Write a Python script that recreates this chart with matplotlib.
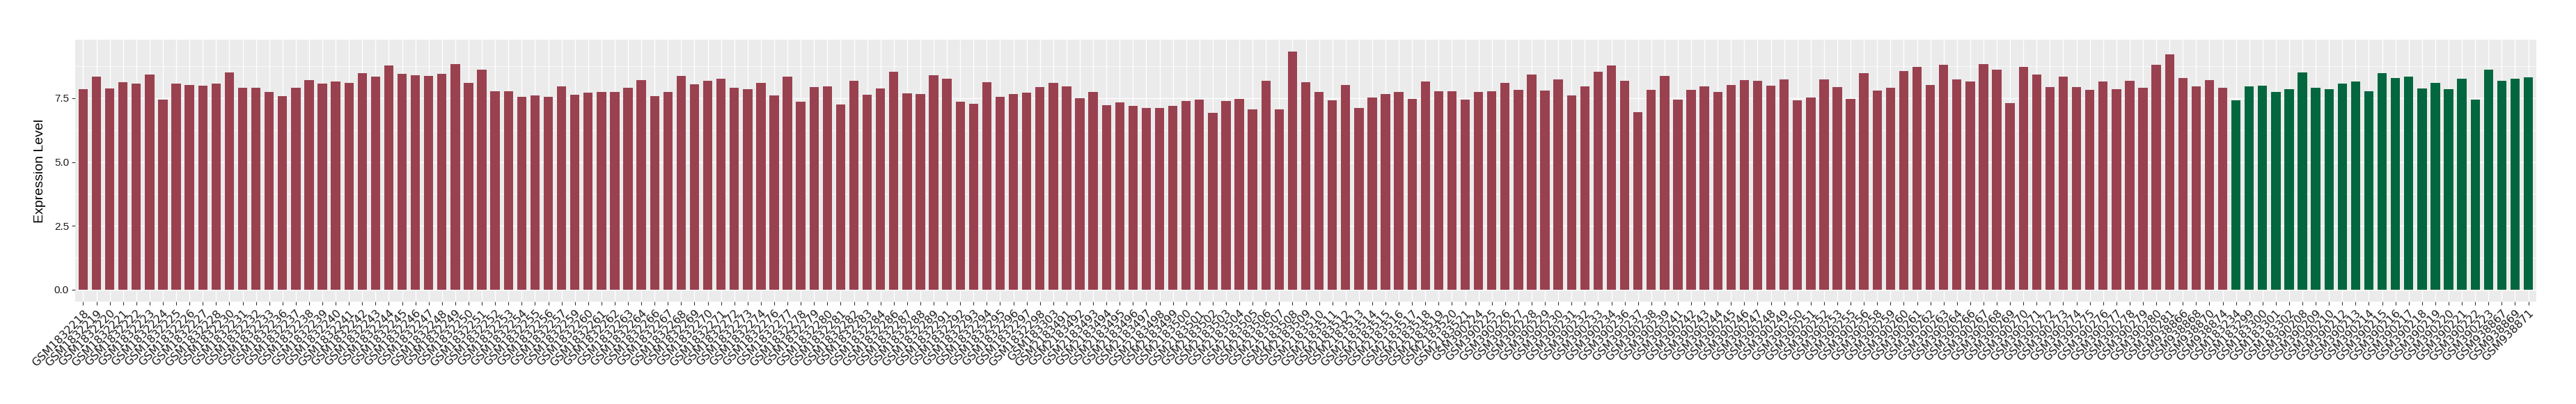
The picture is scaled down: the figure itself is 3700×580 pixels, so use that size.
import matplotlib
matplotlib.use("Agg")
import matplotlib.pyplot as plt
from matplotlib.ticker import MultipleLocator

# muestras del grupo 1 (rojo)
samples_a = (
    ["GSM1832%d" % n for n in [218, 219, 220, 221, 222, 223, 224, 225, 226, 227, 228,
                              230, 231, 232, 233, 236, 237, 238, 239, 240, 241, 242,
                              243, 244, 245, 246, 247, 248, 249, 250, 251, 252, 253,
                              254, 255, 256, 257, 259, 260, 261, 262, 263, 264, 266,
                              267, 268, 269, 270, 271, 272, 273, 274, 276, 277, 278,
                              279, 280, 281, 282, 283, 284, 286, 287, 288, 289, 291,
                              292, 293, 294, 295, 296, 297, 298]]
    + ["GSM183303"]
    + ["GSM2183%d" % n for n in range(491, 522)]
    + ["GSM390%d" % n for n in [224, 225, 226, 227, 228, 229, 230, 231, 232, 233, 234,
                               236, 237, 238, 239, 241, 242, 243, 244, 245, 246, 247,
                               248, 249, 250, 251, 252, 253, 255, 256, 258, 259, 260,
                               261, 262, 263, 264, 266, 267, 268, 269, 270, 271, 272,
                               273, 274, 275, 276, 277, 278, 279, 280, 281]]
    + ["GSM938866", "GSM938868", "GSM938870", "GSM938874"]
)

values_a = [
    7.85, 8.34, 7.87, 8.12, 8.07, 8.42, 7.44, 8.07, 8.01, 7.98,
    8.07, 8.50, 7.90, 7.90, 7.74, 7.57, 7.90, 8.20, 8.07, 8.15,
    8.09, 8.48, 8.34, 8.78, 8.45, 8.39, 8.37, 8.45, 8.83, 8.09,
    8.61, 7.76, 7.76, 7.55, 7.60, 7.55, 7.96, 7.63, 7.71, 7.74,
    7.74, 7.90, 8.20, 7.57, 7.74, 8.37, 8.04, 8.18, 8.26, 7.90,
    7.85, 8.09, 7.60, 8.34, 7.35, 7.93, 7.96, 7.24, 8.18, 7.63,
    7.87, 8.53, 7.68, 7.66, 8.39, 8.26, 7.35, 7.27, 8.12, 7.55,
    7.66, 7.71, 7.93, 8.09, 7.96, 7.49, 7.74, 7.22, 7.33, 7.19,
    7.11, 7.11, 7.19, 7.38, 7.44, 6.92, 7.38, 7.46, 7.05, 8.18,
    7.05, 9.32, 8.12, 7.74, 7.41, 8.01, 7.11, 7.52, 7.66, 7.74,
    7.46, 8.15, 7.76, 7.76, 7.44, 7.74, 7.76, 8.09, 7.82, 8.42,
    7.79, 8.23, 7.60, 7.96, 8.53, 8.78, 8.18, 6.94, 7.82, 8.37,
    7.44, 7.82, 7.96, 7.74, 8.01, 8.20, 8.18, 7.98, 8.23, 7.41,
    7.52, 8.23, 7.93, 7.46, 8.48, 7.79, 7.90, 8.56, 8.72, 8.01,
    8.80, 8.23, 8.15, 8.83, 8.61, 7.30, 8.72, 8.42, 7.93, 8.34,
    7.93, 7.82, 8.15, 7.85, 8.18, 7.90, 8.80, 9.22, 8.28, 7.96,
    8.20, 7.90,
]

# muestras del grupo 2 (verde)
samples_b = (
    ["GSM183234", "GSM183299", "GSM183300", "GSM183301", "GSM183302"]
    + ["GSM390%d" % n for n in [208, 209, 210, 212, 213, 214, 215, 216, 217, 218,
                               219, 220, 221, 222, 223]]
    + ["GSM938867", "GSM938869", "GSM938871"]
)

values_b = [
    7.41, 7.96, 7.98, 7.74, 7.85, 8.50, 7.90, 7.85, 8.07, 8.15,
    7.76, 8.48, 8.28, 8.34, 7.87, 8.09, 7.85, 8.26, 7.44, 8.61,
    8.18, 8.26, 8.31,
]

color_a = "#9A4150"
color_b = "#02673F"

labels = samples_a + samples_b
values = values_a + values_b
colors = [color_a] * len(values_a) + [color_b] * len(values_b)
x = list(range(len(labels)))

fig = plt.figure(figsize=(37, 5.8), dpi=100)
ax = fig.add_axes([108 / 3700, 1 - 433 / 580, (3643 - 108) / 3700, (433 - 57) / 580])

ax.set_facecolor("#EBEBEB")
ax.bar(x, values, width=0.7, color=colors, zorder=2)

ymax = max(values)
ax.set_ylim(-0.05 * ymax, ymax * 1.05)
ax.set_xlim(-0.6, len(labels) - 1 + 0.6)

# rejilla estilo ggplot
ax.yaxis.set_major_locator(MultipleLocator(2.5))
ax.yaxis.set_minor_locator(MultipleLocator(1.25))
ax.grid(which="major", color="white", linewidth=1.0, zorder=0)
ax.grid(which="minor", axis="y", color="white", linewidth=0.5, zorder=0)
ax.set_axisbelow(True)
for s in ax.spines.values():
    s.set_visible(False)

ax.set_xticks(x)
ax.set_xticklabels(labels, rotation=45, ha="right", va="top",
                   rotation_mode="anchor", fontsize=11.5, color="#1a1a1a",
                   family="DejaVu Sans")
ax.set_yticks([0, 2.5, 5.0, 7.5])
ax.set_yticklabels(["0.0", "2.5", "5.0", "7.5"], fontsize=11,
                   color="#1a1a1a", family="Liberation Sans")
ax.tick_params(axis="both", which="major", length=3.5, width=0.8,
               color="#333333", pad=3)
ax.tick_params(axis="y", which="minor", length=0)

ax.set_ylabel("Expression Level", fontsize=14, family="Liberation Sans")
ax.yaxis.set_label_coords(-0.012, 0.5)

fig.savefig("out.png", dpi=100, facecolor="white")
